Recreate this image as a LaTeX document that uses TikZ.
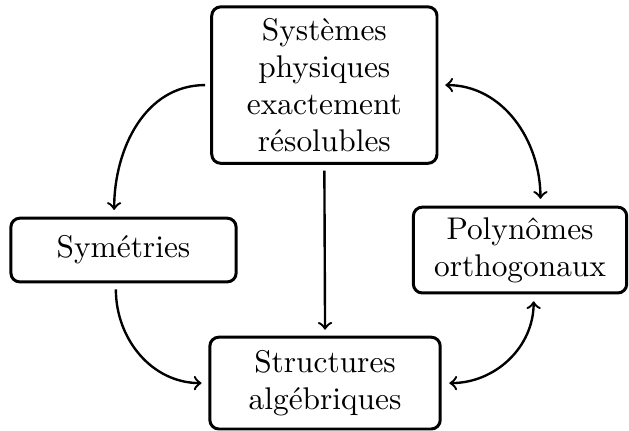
\documentclass[tikz,border=0pt]{standalone}
\usetikzlibrary{calc}
\tikzset{
	boite/.style={draw, line width=1pt, rounded corners=3pt, align=center, inner sep=0pt, font=\fontsize{10.5}{12.3}\selectfont},
	fleche/.style={thick, ->},
	dfleche/.style={thick, <->}
}
\begin{document}
\begin{tikzpicture}
			%%%%% START %%%%%
			
			\useasboundingbox (0, 0) rectangle (7.40, 5.06);
			
			\node[boite, minimum width=2.65cm, minimum height=1.84cm] (systemes) at (3.816, 4.059) {Systèmes\\physiques\\exactement\\résolubles};
			\node[boite, minimum width=2.65cm, minimum height=0.75cm] (symetries) at (1.453, 2.118) {Symétries};
			\node[boite, minimum width=2.51cm, minimum height=1.01cm] (polynomes) at (6.118, 2.118) {Polynômes\\orthogonaux};
			\node[boite, minimum width=2.71cm, minimum height=1.08cm] (structures) at (3.824, 0.553) {Structures\\algébriques};
			
			\draw[fleche] ($(systemes.west)+(-0.06, 0)$) to[out=180, in=90] ($(symetries.north)+(-0.11, 0.08)$);
			\draw[fleche] ($(systemes.south)+(0, -0.07)$) -- ($(structures.north)+(0, 0.07)$);
			\draw[fleche] ($(symetries.south)+(-0.09, -0.07)$) to[out=-90, in=180] ($(structures.west)+(-0.08, 0)$);
			\draw[dfleche] ($(systemes.east)+(0.08, 0)$) to[out=0, in=90] ($(polynomes.north)+(0.24, 0.08)$);
			\draw[dfleche] ($(structures.east)+(0.09, 0)$) to[out=0, in=-90] ($(polynomes.south)+(0.16, -0.08)$);
			
			%%%%% END %%%%%
		\end{tikzpicture}
\end{document}
